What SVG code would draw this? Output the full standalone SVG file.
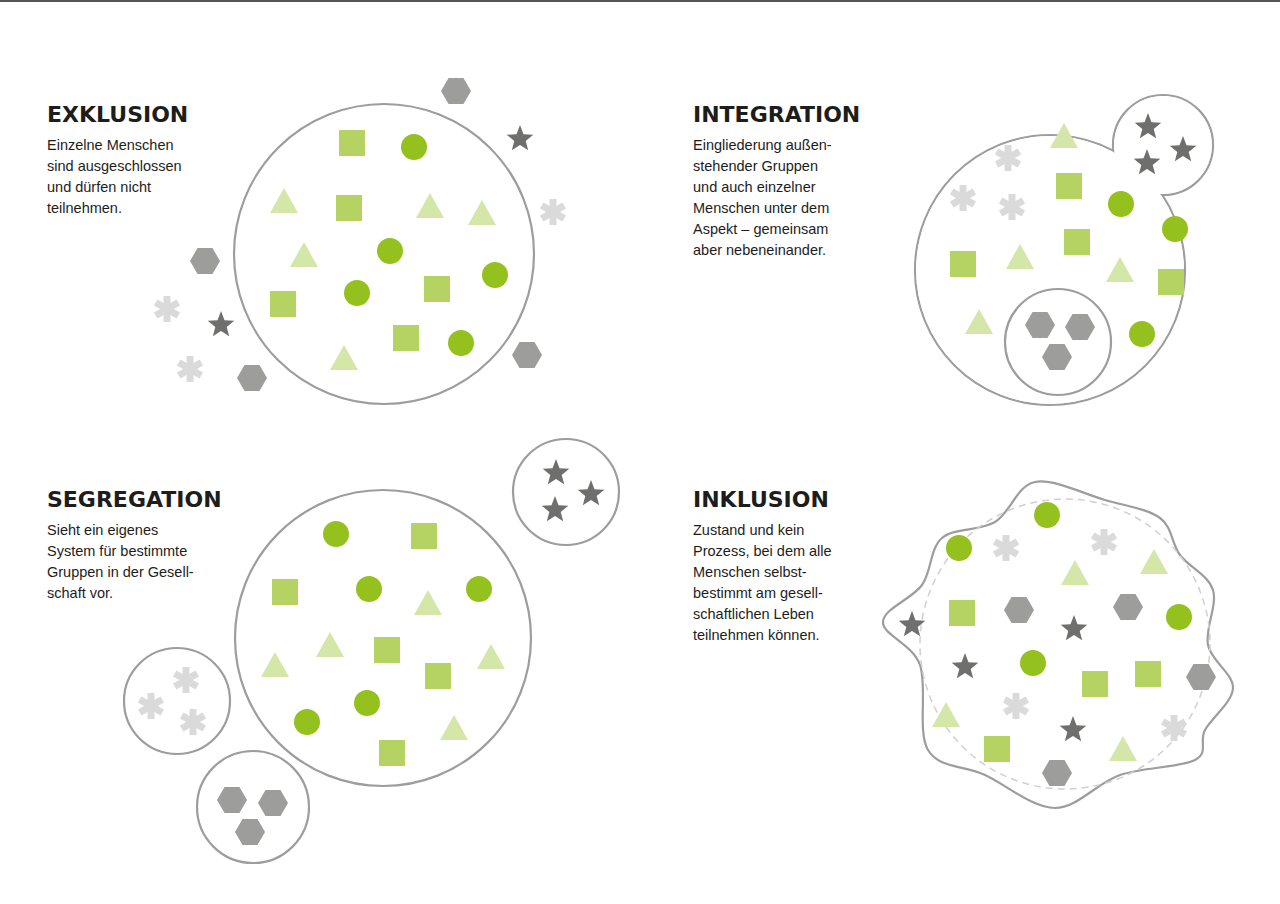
<svg xmlns="http://www.w3.org/2000/svg" xmlns:xlink="http://www.w3.org/1999/xlink" width="1280" height="904" viewBox="0 0 1280 904">
<style>
.b{fill:#fff;stroke:#9d9d9c;stroke-width:2.2}
.h{font-family:"DejaVu Sans",sans-serif;font-weight:bold;font-size:22px;fill:#1d1d1b}
.t{font-family:"Liberation Sans",sans-serif;font-size:14.5px;fill:#1d1d1b}
</style>
<defs>
<circle id="ci" r="13" fill="#95c11f"/>
<rect id="sq" x="-13" y="-13" width="26" height="26" fill="#b5d363"/>
<polygon id="tr" points="0,-13 14,12 -14,12" fill="#d5e6a9"/>
<polygon id="hx" points="-15,0 -7.5,-13 7.5,-13 15,0 7.5,13 -7.5,13" fill="#9d9d9c"/>
<polygon id="st" points="0,-14 3.5,-4.8 13.3,-4.3 5.7,1.9 8.2,11.3 0,6 -8.2,11.3 -5.7,1.9 -13.3,-4.3 -3.5,-4.8" fill="#6f6f6e"/>
<g id="as" stroke="#dadada" stroke-width="7"><line x1="0" y1="-13" x2="0" y2="13"/><line x1="-11.3" y1="-6.5" x2="11.3" y2="6.5"/><line x1="-11.3" y1="6.5" x2="11.3" y2="-6.5"/></g>
</defs>
<rect x="0" y="0" width="1280" height="904" fill="#fff"/>
<rect x="0" y="0" width="1280" height="2" fill="#555"/>

<g id="exklusion">
<circle class="b" cx="384" cy="254" r="150"/>
<use href="#sq" x="352" y="143"/><use href="#sq" x="349" y="208"/><use href="#sq" x="437" y="289"/><use href="#sq" x="283" y="304"/><use href="#sq" x="406" y="338"/>
<use href="#ci" x="414" y="147"/><use href="#ci" x="390" y="251"/><use href="#ci" x="495" y="275"/><use href="#ci" x="357" y="293"/><use href="#ci" x="461" y="343"/>
<use href="#tr" x="284" y="201"/><use href="#tr" x="430" y="206"/><use href="#tr" x="482" y="213"/><use href="#tr" x="304" y="255"/><use href="#tr" x="344" y="358"/>
<use href="#hx" x="456" y="91"/><use href="#hx" x="205" y="261"/><use href="#hx" x="527" y="355"/><use href="#hx" x="252" y="378"/>
<use href="#st" x="520" y="139"/><use href="#st" x="221" y="325"/>
<use href="#as" x="553" y="212"/><use href="#as" x="167" y="309"/><use href="#as" x="190" y="369"/>
<text class="h" x="47" y="122">EXKLUSION</text>
<text class="t" x="47" y="150">Einzelne Menschen</text>
<text class="t" x="47" y="171">sind ausgeschlossen</text>
<text class="t" x="47" y="192">und dürfen nicht</text>
<text class="t" x="47" y="213">teilnehmen.</text>
</g>

<g id="integration">
<circle class="b" cx="1050" cy="270" r="135"/>
<circle class="b" cx="1163" cy="145" r="50"/>
<circle fill="#fff" cx="1050" cy="270" r="133.9"/>
<circle fill="#fff" cx="1163" cy="145" r="48.9"/>
<circle class="b" cx="1058" cy="342" r="53"/>
<use href="#as" x="1008" y="158"/><use href="#as" x="963" y="198"/><use href="#as" x="1012" y="207"/>
<use href="#tr" x="1064" y="136"/><use href="#tr" x="1020" y="257"/><use href="#tr" x="1120" y="270"/><use href="#tr" x="979" y="322"/>
<use href="#sq" x="1069" y="186"/><use href="#sq" x="1077" y="242"/><use href="#sq" x="963" y="264"/><use href="#sq" x="1171" y="282"/>
<use href="#ci" x="1121" y="204"/><use href="#ci" x="1175" y="229"/><use href="#ci" x="1142" y="334"/>
<use href="#st" x="1148" y="127"/><use href="#st" x="1183" y="150"/><use href="#st" x="1147" y="163"/>
<use href="#hx" x="1040" y="325"/><use href="#hx" x="1080" y="327"/><use href="#hx" x="1057" y="357"/>
<text class="h" x="693" y="122">INTEGRATION</text>
<text class="t" x="693" y="150">Eingliederung außen-</text>
<text class="t" x="693" y="171">stehender Gruppen</text>
<text class="t" x="693" y="192">und auch einzelner</text>
<text class="t" x="693" y="213">Menschen unter dem</text>
<text class="t" x="693" y="234">Aspekt – gemeinsam</text>
<text class="t" x="693" y="255">aber nebeneinander.</text>
</g>

<g id="segregation">
<circle class="b" cx="383" cy="638" r="148"/>
<circle class="b" cx="566" cy="492" r="53"/>
<circle class="b" cx="177" cy="701" r="53"/>
<circle class="b" cx="253" cy="807" r="56"/>
<use href="#ci" x="336" y="534"/><use href="#ci" x="369" y="589"/><use href="#ci" x="479" y="589"/><use href="#ci" x="367" y="703"/><use href="#ci" x="307" y="722"/>
<use href="#sq" x="424" y="536"/><use href="#sq" x="285" y="592"/><use href="#sq" x="387" y="650"/><use href="#sq" x="438" y="676"/><use href="#sq" x="392" y="753"/>
<use href="#tr" x="428" y="603"/><use href="#tr" x="330" y="645"/><use href="#tr" x="491" y="657"/><use href="#tr" x="275" y="665"/><use href="#tr" x="454" y="728"/>
<use href="#st" x="556" y="473"/><use href="#st" x="591" y="494"/><use href="#st" x="555" y="510"/>
<use href="#as" x="186" y="680"/><use href="#as" x="151" y="706"/><use href="#as" x="193" y="722"/>
<use href="#hx" x="232" y="800"/><use href="#hx" x="273" y="803"/><use href="#hx" x="250" y="832"/>
<text class="h" x="47" y="507">SEGREGATION</text>
<text class="t" x="47" y="535">Sieht ein eigenes</text>
<text class="t" x="47" y="556">System für bestimmte</text>
<text class="t" x="47" y="577">Gruppen in der Gesell-</text>
<text class="t" x="47" y="598">schaft vor.</text>
</g>

<g id="inklusion">
<path class="b" d="M1035,482 C1053.3,478.3 1084.2,494 1105,500 C1125.8,506 1147.5,508.8 1160,518 C1172.5,527.2 1171.2,543 1180,555 C1188.8,567 1208.3,575 1213,590 C1217.7,605 1204.7,628.7 1208,645 C1211.3,661.3 1233.5,673.8 1233,688 C1232.5,702.2 1211.3,718 1205,730 C1198.7,742 1209.2,752.5 1195,760 C1180.8,767.5 1143.3,767 1120,775 C1096.7,783 1077.5,808 1055,808 C1032.5,808 1006.2,784.7 985,775 C963.8,765.3 938.8,768.3 928,750 C917.2,731.7 927.5,686.3 920,665 C912.5,643.7 882.7,635.3 883,622 C883.3,608.7 912.2,599 922,585 C931.8,571 929.8,548.5 942,538 C954.2,527.5 979.5,531.3 995,522 C1010.5,512.7 1016.7,485.7 1035,482 Z"/>
<circle cx="1065" cy="644" r="145" fill="none" stroke="#d0d0d0" stroke-width="1.5" stroke-dasharray="7 5"/>
<use href="#ci" x="1047" y="515"/><use href="#ci" x="959" y="548"/><use href="#ci" x="1179" y="617"/><use href="#ci" x="1033" y="663"/>
<use href="#as" x="1006" y="548"/><use href="#as" x="1104" y="542"/><use href="#as" x="1016" y="706"/><use href="#as" x="1174" y="728"/>
<use href="#tr" x="1075" y="573"/><use href="#tr" x="1154" y="562"/><use href="#tr" x="946" y="715"/><use href="#tr" x="1123" y="749"/>
<use href="#sq" x="962" y="613"/><use href="#sq" x="1095" y="684"/><use href="#sq" x="1148" y="674"/><use href="#sq" x="997" y="749"/>
<use href="#hx" x="1019" y="610"/><use href="#hx" x="1128" y="607"/><use href="#hx" x="1201" y="677"/><use href="#hx" x="1057" y="773"/>
<use href="#st" x="912" y="625"/><use href="#st" x="1074" y="629"/><use href="#st" x="965" y="667"/><use href="#st" x="1073" y="730"/>
<text class="h" x="693" y="507">INKLUSION</text>
<text class="t" x="693" y="535">Zustand und kein</text>
<text class="t" x="693" y="556">Prozess, bei dem alle</text>
<text class="t" x="693" y="577">Menschen selbst-</text>
<text class="t" x="693" y="598">bestimmt am gesell-</text>
<text class="t" x="693" y="619">schaftlichen Leben</text>
<text class="t" x="693" y="640">teilnehmen können.</text>
</g>
</svg>
